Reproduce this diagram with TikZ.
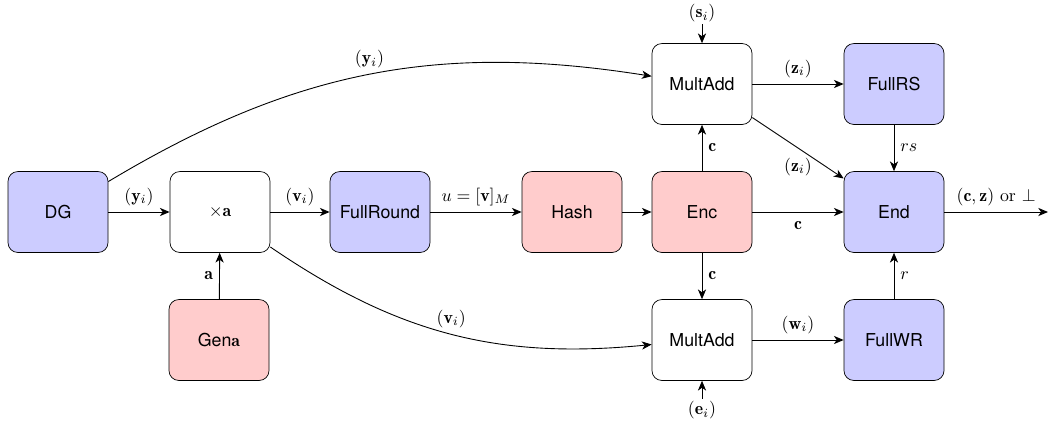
\documentclass[tikz,border=0pt]{standalone}
\usepackage{fontspec}
\setsansfont{TeX Gyre Heros}
\usetikzlibrary{arrows.meta}
\begin{document}
\begin{tikzpicture}[x=0.5625pt,y=-0.5625pt,
  blk/.style={draw, rounded corners=5.5pt, minimum width=56.25pt,
    minimum height=45.5pt, font=\sffamily, inner sep=2pt},
  bluebox/.style={blk, fill=blue!20},
  redbox/.style={blk, fill=red!20},
  whitebox/.style={blk, fill=white},
  arr/.style={-{Stealth[length=5.5pt,width=4.6pt,inset=1.6pt]}, line width=0.5pt}]
\useasboundingbox (0,0) rectangle (1048,425);

% blocks
\node[bluebox]  (DG)    at (58,212)  {DG};
\node[whitebox] (mula)  at (220,212) {$\times\mathbf a$};
\node[bluebox]  (round) at (380,212) {FullRound};
\node[redbox]   (hash)  at (572,212) {Hash};
\node[redbox]   (enc)   at (702,212) {Enc};
\node[whitebox] (maz)   at (702,84)  {MultAdd};
\node[bluebox]  (frs)   at (894,84)  {FullRS};
\node[bluebox]  (fin)   at (894,212) {End};
\node[whitebox] (maw)   at (702,340) {MultAdd};
\node[bluebox]  (fwr)   at (894,340) {FullWR};
\node[redbox]   (gena)  at (219,340) {Gen$\mathbf a$};

% external inputs and output
\node[inner sep=1pt] (si) at (702,13) {$(\mathbf s_i)$};
\node[inner sep=1pt] (ei) at (702,410) {$(\mathbf e_i)$};
\coordinate (out) at (1048,212);

% main chain
\draw[arr] (DG) -- node[above] {$(\mathbf y_i)$} (mula);
\draw[arr] (mula) -- node[above] {$(\mathbf v_i)$} (round);
\draw[arr] (round) -- node[above] {$u=[\mathbf v]_M$} (hash);
\draw[arr] (hash) -- (enc);
\draw[arr] (enc) -- node[below, yshift=-2pt] {$\mathbf c$} (fin);
\draw[arr] (gena) -- node[left] {$\mathbf a$} (mula);

% challenge to both multiply-add blocks
\draw[arr] (enc) -- node[right] {$\mathbf c$} (maz);
\draw[arr] (enc) -- node[right] {$\mathbf c$} (maw);
\draw[arr] (si) -- (maz);
\draw[arr] (ei) -- (maw);

% long connections
\draw[arr] (DG) to[bend left=20] node[above] {$(\mathbf y_i)$} (maz);
\draw[arr] (mula) to[bend right=20] node[above] {$(\mathbf v_i)$} (maw);

% right part
\draw[arr] (maz) -- node[above] {$(\mathbf z_i)$} (frs);
\draw[arr] (maw) -- node[above] {$(\mathbf w_i)$} (fwr);
\draw[arr] (maz) -- node[below, yshift=-2pt] {$(\mathbf z_i)$} (fin);
\draw[arr] (frs) -- node[right] {$rs$} (fin);
\draw[arr] (fwr) -- node[right] {$r$} (fin);
\draw[arr] (fin) -- node[above] {$(\mathbf c,\mathbf z)$ or $\perp$} (out);
\end{tikzpicture}
\end{document}
